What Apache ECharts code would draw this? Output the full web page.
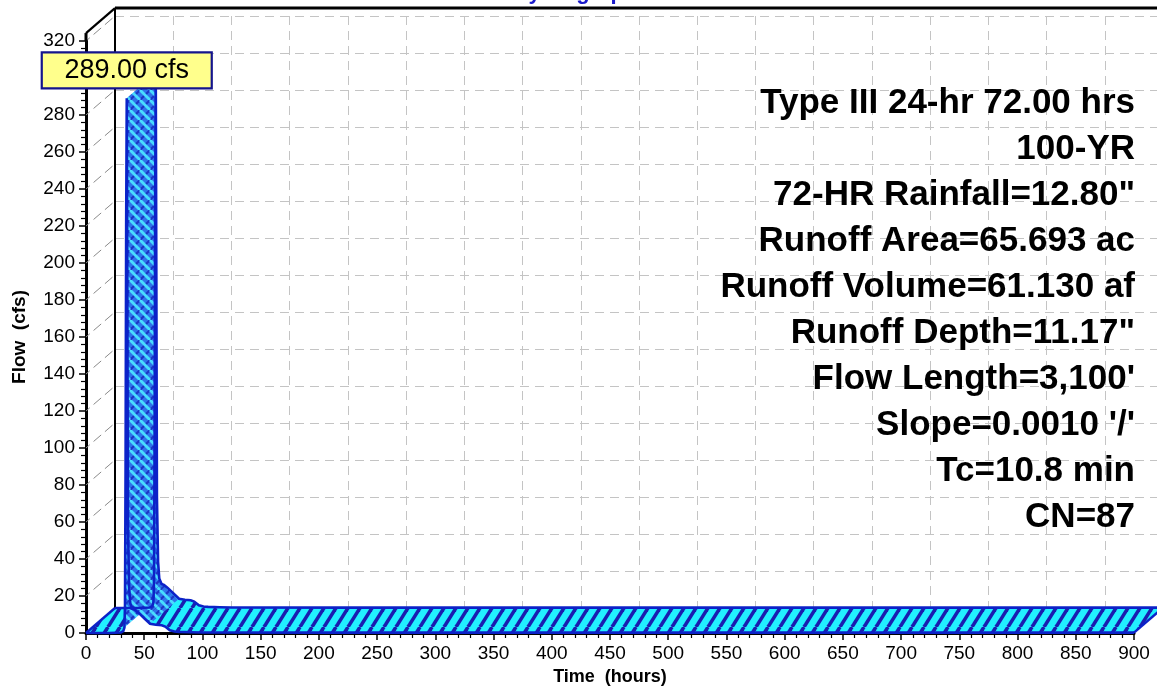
<!DOCTYPE html>
<html>
<head>
<meta charset="utf-8">
<script src="https://cdn.jsdelivr.net/npm/echarts@6/dist/echarts.min.js"></script>
<style>
html,body{margin:0;padding:0;background:#fff;}
#chart{width:1157px;height:686px;}
</style>
</head>
<body>
<div id="chart"></div>
<script>
// ---- data ----
const timeHours = [0, 10, 20, 30, 32, 33, 33.5, 34, 34.5, 35, 35.5, 36, 37, 38, 40, 42, 45, 50, 55, 60, 65, 68, 72, 76, 80, 90, 100, 200, 300, 400, 500, 600, 700, 800, 900];
const flowCfs   = [0, 0, 0, 0.3, 1, 3, 15, 90, 220, 289, 180, 60, 25, 16, 13, 12.5, 11, 8, 5, 4.5, 4.2, 3.5, 1.5, 0.8, 0.6, 0.4, 0.3, 0.2, 0.2, 0.2, 0.2, 0.2, 0.2, 0.2, 0.2];
const yTickValues = [0, 20, 40, 60, 80, 100, 120, 140, 160, 180, 200, 220, 240, 260, 280, 300, 320];
const peakText = '289.00 cfs';
const titleText = 'Hydrograph';
const infoLines = [
  'Type III 24-hr 72.00 hrs',
  '100-YR',
  '72-HR Rainfall=12.80"',
  'Runoff Area=65.693 ac',
  'Runoff Volume=61.130 af',
  'Runoff Depth=11.17"',
  "Flow Length=3,100'",
  "Slope=0.0010 '/'",
  'Tc=10.8 min',
  'CN=87'
];
const boxTopCfs = 324.3;

// ---- styling ----
const DX = 29, DY = -25;           // oblique depth offset (px)
const FONT = '"Liberation Sans", Arial, sans-serif';

function stripePattern() {
  const W = 12, H = 19;
  const c = document.createElement('canvas');
  c.width = W; c.height = H;
  const g = c.getContext('2d');
  g.fillStyle = '#22f0ff'; g.fillRect(0, 0, W, H);
  g.strokeStyle = '#1a1eb0'; g.lineWidth = 3.6;
  [-W, 0, W].forEach(o => { g.beginPath(); g.moveTo(o, H); g.lineTo(o + W, 0); g.stroke(); });
  return { image: c, repeat: 'repeat' };
}
function hatchPattern() {
  const W = 10, H = 10;
  const c = document.createElement('canvas');
  c.width = W; c.height = H;
  const g = c.getContext('2d');
  g.fillStyle = '#2e72ea'; g.fillRect(0, 0, W, H);
  g.strokeStyle = '#1d34c4'; g.lineWidth = 2;
  [-W, 0, W].forEach(o => { g.beginPath(); g.moveTo(o, H); g.lineTo(o + W, 0); g.stroke(); });
  g.strokeStyle = '#4adcff'; g.lineWidth = 2.8;
  [-W, 0, W].forEach(o => { g.beginPath(); g.moveTo(o, 0); g.lineTo(o + W, H); g.stroke(); });
  return { image: c, repeat: 'repeat' };
}
const cyanFill = stripePattern();
const blueFill = hatchPattern();
const EDGE = '#0c22c8';

function renderFrame(params, api) {
  if (params.dataIndex !== 0) return null;
  const ch = [];
  yTickValues.forEach(v => {
    if (v === 0) return;
    const a = api.coord([0, v]);
    ch.push({ type: 'line', shape: { x1: a[0], y1: a[1], x2: a[0] + DX, y2: a[1] + DY },
      style: { stroke: '#8a8a8a', lineWidth: 1, lineDash: [10, 5], lineDashOffset: -10 } });
  });
  const f0 = api.coord([0, 0]);
  const fT = api.coord([0, boxTopCfs]);
  const f320 = api.coord([0, 320]);
  const b0 = [f0[0] + DX, f0[1] + DY];
  const bT = [fT[0] + DX, fT[1] + DY];
  ch.push({ type: 'line', shape: { x1: b0[0], y1: b0[1], x2: bT[0], y2: bT[1] }, style: { stroke: '#000', lineWidth: 2 } });
  ch.push({ type: 'line', shape: { x1: fT[0], y1: fT[1], x2: bT[0], y2: bT[1] }, style: { stroke: '#000', lineWidth: 2.2 } });
  ch.push({ type: 'line', shape: { x1: bT[0], y1: bT[1], x2: api.getWidth(), y2: bT[1] }, style: { stroke: '#000', lineWidth: 3 } });
  ch.push({ type: 'line', shape: { x1: f320[0], y1: f320[1], x2: fT[0], y2: fT[1] }, style: { stroke: '#000', lineWidth: 3 } });
  return { type: 'group', children: ch };
}

function renderRibbon(params, api) {
  if (params.dataIndex !== 0) return null;
  const front = timeHours.map((t, i) => api.coord([t, flowCfs[i]]));
  const back = front.map(p => [p[0] + DX, p[1] + DY]);
  const ch = [];
  // whole ribbon (flat parts)
  ch.push({ type: 'polygon', shape: { points: front.concat(back.slice().reverse()) },
    style: { fill: cyanFill, stroke: null } });
  // steep / high-flow segments
  for (let i = 0; i < front.length - 1; i++) {
    if (Math.max(flowCfs[i], flowCfs[i + 1]) > 6) {
      ch.push({ type: 'polygon', shape: { points: [front[i], front[i + 1], back[i + 1], back[i]] },
        style: { fill: blueFill, stroke: null } });
    }
  }
  // outlines
  ch.push({ type: 'polyline', shape: { points: front }, style: { stroke: EDGE, lineWidth: 2.6, fill: null } });
  ch.push({ type: 'polyline', shape: { points: back }, style: { stroke: EDGE, lineWidth: 2.6, fill: null } });
  const n = front.length - 1;
  ch.push({ type: 'line', shape: { x1: front[0][0], y1: front[0][1], x2: back[0][0], y2: back[0][1] }, style: { stroke: EDGE, lineWidth: 2.4 } });
  ch.push({ type: 'line', shape: { x1: front[n][0], y1: front[n][1], x2: back[n][0], y2: back[n][1] }, style: { stroke: EDGE, lineWidth: 2.4 } });
  // peak label
  let pk = 0;
  flowCfs.forEach((v, i) => { if (v > flowCfs[pk]) pk = i; });
  const p = front[pk];
  ch.push({ type: 'rect', shape: { x: p[0] - 85, y: p[1] - 46, width: 170, height: 36 },
    style: { fill: '#ffff8c', stroke: '#14148c', lineWidth: 2.2 } });
  ch.push({ type: 'text', style: { text: peakText, x: p[0], y: p[1] - 28, align: 'center', verticalAlign: 'middle',
    textAlign: 'center', textVerticalAlign: 'middle', font: '27px ' + FONT, fill: '#000' } });
  return { type: 'group', children: ch };
}

const chart = echarts.init(document.getElementById('chart'), null, { renderer: 'canvas' });
const axisFont = { fontFamily: FONT, fontSize: 19, color: '#000' };
const backSplit = { show: true, lineStyle: { color: '#c4c4c4', width: 1, type: [9, 6] } };

chart.setOption({
  animation: false,
  backgroundColor: '#ffffff',
  grid: [
    { left: 86, right: 23, top: 41, bottom: 53, outerBoundsMode: 'none', containLabel: false },
    { left: 86 + DX, right: 23 - DX, top: 41 + DY, bottom: 53 - DY, outerBoundsMode: 'none', containLabel: false }
  ],
  xAxis: [
    {
      gridIndex: 0, type: 'value', min: 0, max: 900, interval: 50,
      name: 'Time  (hours)', nameLocation: 'middle', nameGap: 34,
      nameTextStyle: { fontFamily: FONT, fontSize: 18, fontWeight: 'bold', color: '#000' },
      axisLine: { show: true, lineStyle: { color: '#000', width: 3 } },
      axisTick: { show: true, length: 7, lineStyle: { color: '#000', width: 1.5 } },
      minorTick: { show: true, splitNumber: 5, length: 5, lineStyle: { color: '#000', width: 1.2 } },
      axisLabel: Object.assign({ margin: 11 }, axisFont),
      splitLine: { show: false }
    },
    {
      gridIndex: 1, type: 'value', min: 0, max: 900, interval: 50,
      axisLine: { show: false }, axisTick: { show: false }, axisLabel: { show: false },
      splitLine: backSplit
    }
  ],
  yAxis: [
    {
      gridIndex: 0, type: 'value', min: 0, max: 320, interval: 20,
      name: 'Flow  (cfs)', nameLocation: 'middle', nameGap: 57,
      nameTextStyle: { fontFamily: FONT, fontSize: 19, fontWeight: 'bold', color: '#000' },
      axisLine: { show: true, lineStyle: { color: '#000', width: 3 } },
      axisTick: { show: true, length: 7, lineStyle: { color: '#000', width: 1.5 } },
      minorTick: { show: true, splitNumber: 5, length: 5, lineStyle: { color: '#000', width: 1.2 } },
      axisLabel: Object.assign({ margin: 11 }, axisFont),
      splitLine: { show: false }
    },
    {
      gridIndex: 1, type: 'value', min: 0, max: 320, interval: 20,
      axisLine: { show: false }, axisTick: { show: false }, axisLabel: { show: false },
      splitLine: backSplit
    }
  ],
  graphic: [
    { type: 'text', right: 22, top: 80, z: 10,
      style: { text: infoLines.join('\n'), font: 'bold 35px ' + FONT, fill: '#000', lineHeight: 46, align: 'right', textAlign: 'right' } },
    { type: 'text', x: 575, y: 4, z: 10,
      style: { text: titleText, font: 'bold 22px ' + FONT, fill: '#1a1acc', align: 'center', textAlign: 'center', verticalAlign: 'bottom', textVerticalAlign: 'bottom' } }
  ],
  series: [
    { type: 'custom', xAxisIndex: 0, yAxisIndex: 0, renderItem: renderFrame, data: [[0, 0]], z: 1, silent: true },
    { type: 'custom', xAxisIndex: 0, yAxisIndex: 0, renderItem: renderRibbon,
      data: timeHours.map((t, i) => [t, flowCfs[i]]), z: 3, silent: true, clip: false }
  ]
});
</script>
</body>
</html>
